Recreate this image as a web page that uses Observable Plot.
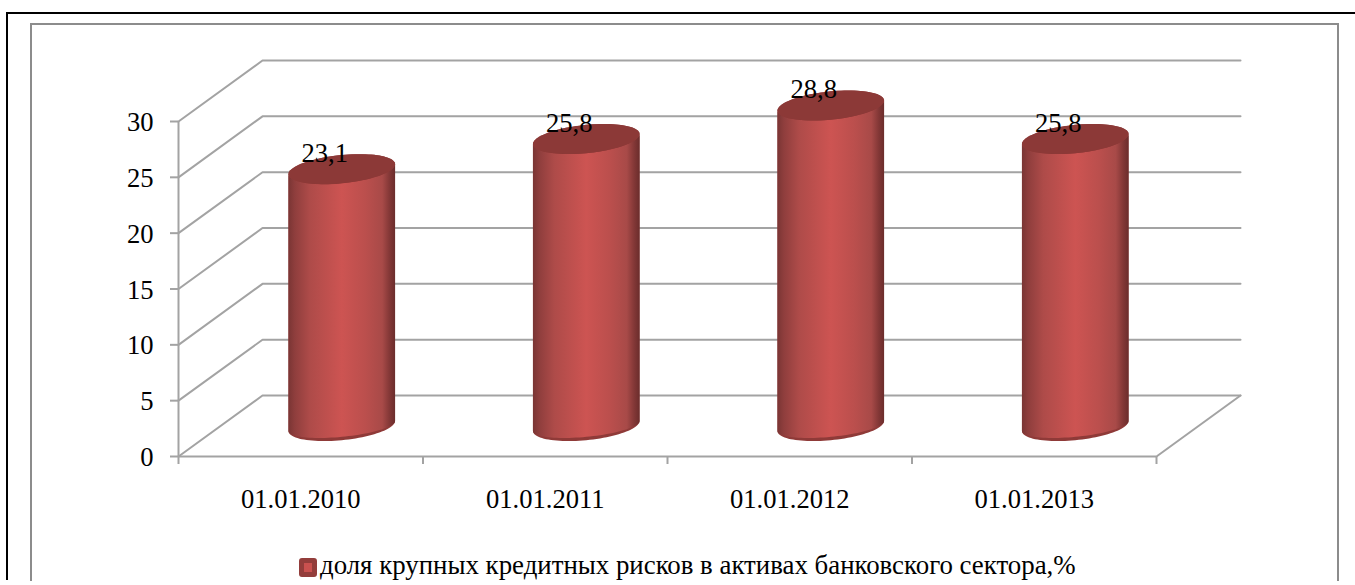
<!DOCTYPE html>
<html lang="ru">
<head>
<meta charset="utf-8">
<script src="https://cdn.jsdelivr.net/npm/d3@7"></script>
<script src="https://cdn.jsdelivr.net/npm/@observablehq/plot@0.6"></script>
<style>
html,body{margin:0;padding:0;background:#fff;}
#page{position:relative;width:1355px;height:585px;overflow:hidden;background:#fff;font-family:"Liberation Serif",serif;}
#outer{position:absolute;left:6px;top:12px;right:-4px;height:568px;border-top:2px solid #000;border-left:2px solid #000;box-sizing:border-box;}
#inner{position:absolute;left:30px;top:23px;width:1309px;height:558px;border:2px solid #8c8c8c;border-bottom:none;box-sizing:border-box;}
#chart{position:absolute;left:0;top:0;}
#chart svg{display:block;background:transparent;}
#legend{position:absolute;left:299px;top:550px;height:30px;overflow:hidden;display:flex;align-items:flex-start;font-size:26.85px;line-height:30px;color:#000;white-space:nowrap;}
#swatch{width:18px;height:19px;box-sizing:border-box;border:5px solid #933d3b;background:#c9514f;border-radius:3px;margin-right:3px;margin-top:8px;}
#legend span{display:block;}
</style>
</head>
<body>
<div id="page">
  <div id="outer"></div>
  <div id="inner"></div>
  <div id="chart"></div>
  <div id="legend"><div id="swatch"></div><span id="legendText"></span></div>
</div>
<script>
const categories = ["01.01.2010", "01.01.2011", "01.01.2012", "01.01.2013"];
const values = [23.1, 25.8, 28.8, 25.8];
const valueLabels = ["23,1", "25,8", "28,8", "25,8"];
const yTicks = [0, 5, 10, 15, 20, 25, 30];
const seriesName = "доля крупных кредитных рисков в активах банковского сектора,%";

// Oblique projection of the chart's floor, in data units of the two scales.
const depthX = 0.3436, depthY = 5.46;
// Cylinder cross-section, in data units.
const radiusX = 0.218, radiusY = 1.27, tilt = 0.45, rimInset = 0.3;
const steps = 48;

const cx = i => i + 0.5 + depthX / 2;
const cy0 = depthY / 2;
const arc = (i, base, ry, from, to) => d3.range(steps + 1).map(k => {
  const t = from + (to - from) * k / steps;
  return {
    id: i,
    x: cx(i) + radiusX * Math.cos(t),
    y: cy0 + base + ry * Math.sin(t) + tilt * Math.cos(t)
  };
});

const grid = yTicks.flatMap(v => [
  {v, x: 0, y: v},
  {v, x: depthX, y: v + depthY},
  {v, x: 4 + depthX, y: v + depthY}
]);
const floorSide = [{x: 4, y: 0}, {x: 4 + depthX, y: depthY}];

const shell = values.flatMap((v, i) => [
  ...arc(i, v - 0.1, radiusY, Math.PI, 0),
  ...arc(i, 0, radiusY, 0, -Math.PI)
]);
const body = values.flatMap((v, i) => [
  ...arc(i, v - 0.1, radiusY, Math.PI, 2 * Math.PI),
  ...arc(i, 0, radiusY - rimInset, 0, -Math.PI)
]);
const cap = values.flatMap((v, i) => arc(i, v - 0.1, radiusY, 0, 2 * Math.PI));

const gridColor = "#a3a3a3";
const defs = () => {
  const d = d3.create("svg:defs");
  const g = d.append("linearGradient").attr("id", "cyl");
  [[0, "#7a3534"], [0.06, "#8f3e3d"], [0.2, "#ae4b49"], [0.5, "#cd5452"], [0.72, "#bb4f4d"], [0.88, "#a84a48"], [0.95, "#823736"], [1, "#6b2d2c"]]
    .forEach(([o, c]) => g.append("stop").attr("offset", o).attr("stop-color", c));
  return d.node();
};

const chart = Plot.plot({
  width: 1355,
  height: 540,
  marginLeft: 178,
  marginRight: 199,
  marginTop: 121,
  marginBottom: 84,
  x: {domain: [0, 4]},
  y: {domain: [0, 30]},
  style: {fontFamily: "'Liberation Serif', serif", background: "transparent", color: "#000"},
  marks: [
    defs,
    Plot.line(grid, {x: "x", y: "y", z: "v", stroke: gridColor, strokeWidth: 2, strokeLinejoin: "miter"}),
    Plot.line(floorSide, {x: "x", y: "y", stroke: gridColor, strokeWidth: 2}),
    Plot.ruleX([0], {y1: 0, y2: 30, stroke: gridColor, strokeWidth: 2}),
    Plot.ruleY([0], {x1: 0, x2: 4, stroke: gridColor, strokeWidth: 2}),
    Plot.axisY({ticks: yTicks, tickSize: 8, stroke: gridColor, strokeWidth: 2, strokeOpacity: 1, tickFormat: () => "", label: null}),
    Plot.axisY({ticks: yTicks, tickSize: 0, tickPadding: 25, stroke: "none", dy: 1, fontSize: 26.6, fill: "#000", label: null, tickFormat: d => d}),
    Plot.axisX({ticks: d3.range(5), tickSize: 8, stroke: gridColor, strokeWidth: 2, strokeOpacity: 1, tickFormat: () => "", label: null}),
    Plot.axisX({ticks: categories.map((_, i) => i + 0.5), tickSize: 0, tickPadding: 33, stroke: "none", fill: "#000", fontSize: 26.6, tickFormat: d => categories[d - 0.5], label: null}),
    Plot.line(shell, {x: "x", y: "y", z: "id", dx: -1, fill: "#8f3a38", stroke: "none"}),
    Plot.line(body, {x: "x", y: "y", z: "id", dx: -1, fill: "url(#cyl)", stroke: "none"}),
    Plot.line(cap, {x: "x", y: "y", z: "id", dx: -1, fill: "#8c3937", stroke: "none"}),
    Plot.text(values, {
      x: (_, i) => cx(i),
      y: v => v + cy0,
      text: (_, i) => valueLabels[i],
      dx: -18, dy: -6,
      lineAnchor: "bottom",
      fontSize: 26.6,
      fill: "#000"
    })
  ]
});
document.getElementById("chart").append(chart);
document.getElementById("legendText").textContent = seriesName;
</script>
</body>
</html>
